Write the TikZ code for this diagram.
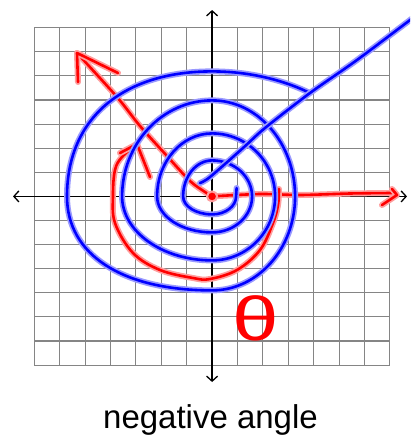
\documentclass[tikz,border=0pt]{standalone}
\usepackage{fontspec}
\usepackage{tikz}
\usetikzlibrary{arrows.meta}
\newfontfamily\captionfont{Liberation Sans}

\begin{document}
\begin{tikzpicture}[
  x=1pt, y=-1pt,
  gridline/.style={draw=black!48, line width=1.15pt},
  axis/.style={draw=black, line width=1.3pt, {Straight Barb[length=5pt,width=11pt]}-{Straight Barb[length=5pt,width=11pt]}},
  blueink/.style={draw=blue, line width=2.6pt, line cap=round, line join=round,
    preaction={draw=blue!40, line width=6pt, line cap=round, line join=round}},
  redink/.style={draw=red, line width=2.6pt, line cap=round, line join=round,
    preaction={draw=red!38, line width=6pt, line cap=round, line join=round}},
  caption/.style={font=\captionfont\fontsize{33}{40}\selectfont, anchor=base}
]
\clip (0,0) rectangle (410,439);
\useasboundingbox (0,0) rectangle (410,439);
% grid 14 x 14
\foreach \i in {0,...,14}
  \draw[gridline] ({34.3+25.4*\i},27.7) -- ({34.3+25.4*\i},365.1);
\foreach \j in {0,...,14}
  \draw[gridline] (34.3,{27.7+24.1*\j}) -- (389.9,{27.7+24.1*\j});
% axes
\coordinate (xl) at (13,196.4);
\coordinate (xr) at (407,196.4);
\coordinate (yt) at (212.1,10);
\coordinate (yb) at (212.1,382);
\coordinate (O) at (212.1,196.4);
\draw[axis] (xl) -- (xr);
\draw[axis] (yb) -- (yt);
% red angle: terminal rays and clockwise arc
\coordinate (tipx) at (397,195);
\coordinate (tipq) at (77,53);
\coordinate (tiparc) at (137,144);
\draw[redink] plot[smooth, tension=0.5] coordinates {(O) (260,194) (300,195) (350,193.5) (392,193)};
\draw[redink] (392,189) -- (tipx) -- (382,205);
\draw[redink] plot[smooth, tension=0.5] coordinates {(O) (205,192) (190,181) (167,156) (140,126) (117,97) (tipq)};
\draw[redink] (78,82) -- (tipq) -- (118,73);
\draw[redink] plot[smooth, tension=0.6] coordinates {(279,189) (278,205) (273,223) (260,250) (237,270) (210,279)
  (193,278) (160,270) (133,253) (115,223) (113,195) (115,170) (122,157) (tiparc)};
\draw[redink] (120,153) -- (tiparc) -- (150,177);
\fill[red, draw=red!38, line width=2pt] (O) circle (5pt);
% blue spiral, quarter by quarter
\draw[blueink] (236.6,188) -- (236.1,196.4)
  \foreach \a/\rx/\ry in {0/24/18, 90/29/18, 180/29/36, 270/40/36,
                           0/40/36, 90/55/36, 180/55/63, 270/63/63,
                           0/63/64, 90/90/64, 180/90/96, 270/83/96,
                           0/83/94}
  { arc[start angle=\a, delta angle=90, x radius=\rx, y radius=\ry] }
  .. controls (122,290.4) and (67,254.7) .. (67,196.4)
  .. controls (67,118.9) and (122,71.4) .. (212.1,71.4)
  arc[start angle=270, end angle=304, x radius=174, y radius=125];
\draw[blueink] plot[smooth, tension=0.5] coordinates {(200,183) (210,177) (243,148) (265,128) (310,93) (357,60) (414,17)};
% theta label and caption
\node[text=red, font=\captionfont\fontsize{62}{70}\selectfont, xscale=1.35] (theta) at (256,318) {θ};
\node[caption] (name) at (210.5,428) {negative angle};
\end{tikzpicture}
\end{document}
